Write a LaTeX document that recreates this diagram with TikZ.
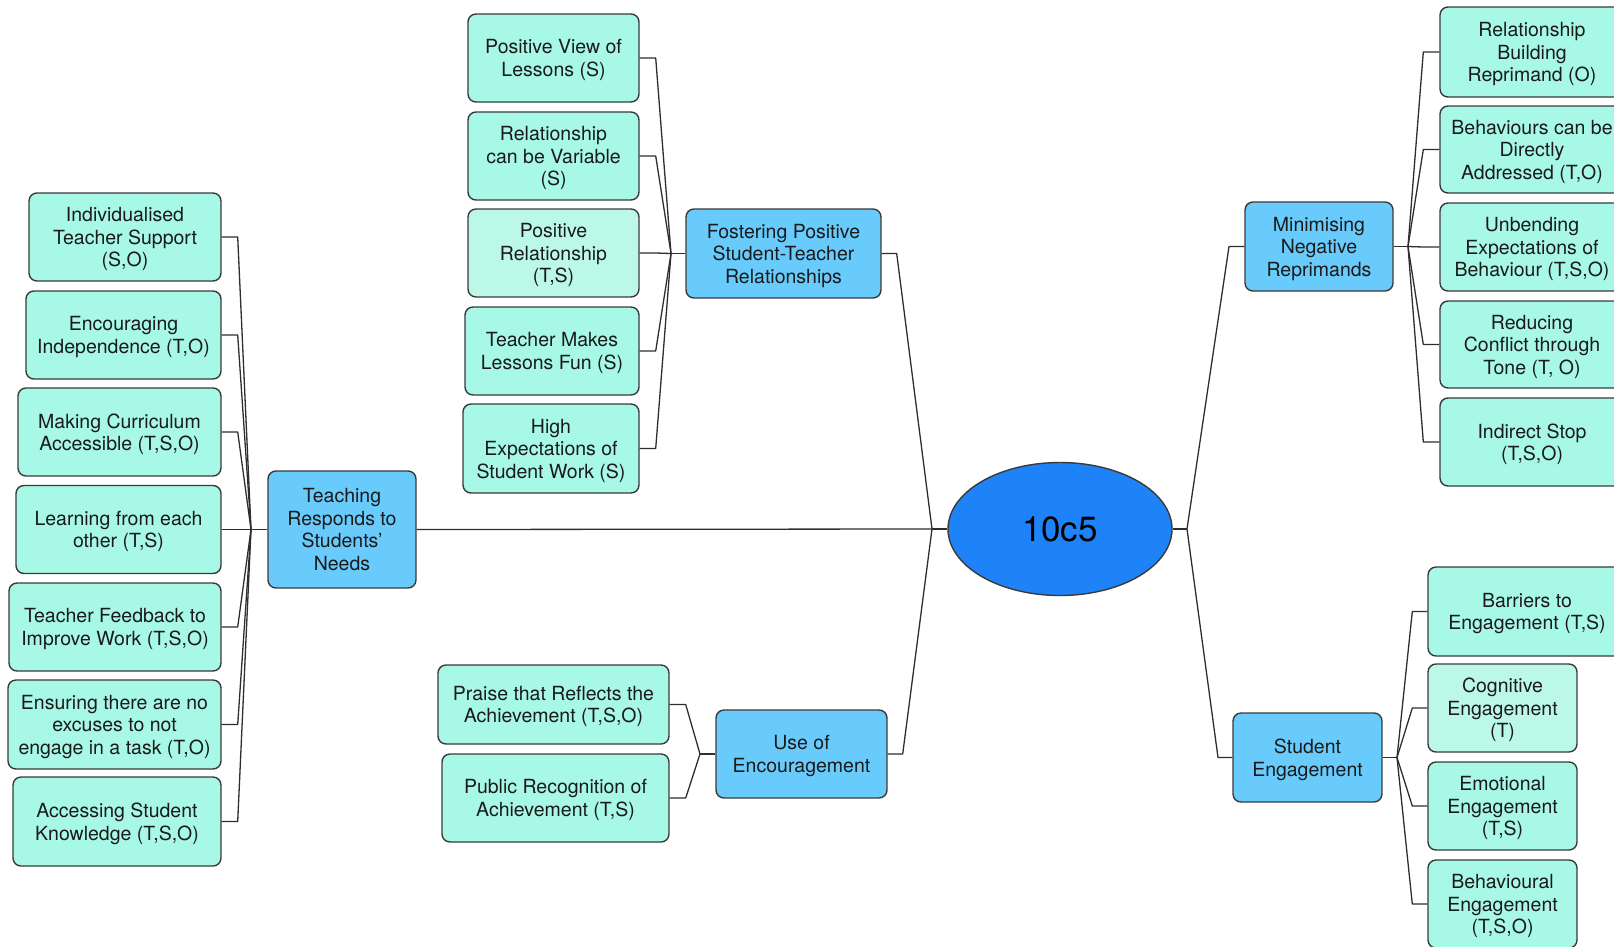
\documentclass[tikz,border=0pt]{standalone}
\usepackage{fontspec}
\setmainfont{TeX Gyre Heros}
\usetikzlibrary{shapes.geometric}
\definecolor{childfill}{HTML}{A7F8E6}
\definecolor{lightfill}{HTML}{BCF8E8}
\definecolor{parentfill}{HTML}{68CBFC}
\definecolor{rootfill}{HTML}{1E82F8}
\definecolor{bordercol}{HTML}{3A3A3A}
\definecolor{linecol}{HTML}{2E2E2E}
\definecolor{textcol}{HTML}{1A1A1A}
\begin{document}
\begin{tikzpicture}[x=1pt,y=-1pt,
  box/.style={draw=bordercol, line width=1.4pt, rounded corners=8pt, align=center,
    inner sep=0pt, minimum height=88pt, text=textcol, text depth=0pt,
    font=\fontsize{19.5}{22.5}\selectfont},
  childbox/.style={box, fill=childfill},
  lightbox/.style={box, fill=lightfill},
  parentbox/.style={box, fill=parentfill},
  rootnode/.style={ellipse, draw=bordercol, line width=1.4pt, fill=rootfill,
    minimum width=224pt, minimum height=133pt, inner sep=0pt, text=black,
    font=\fontsize{35}{40}\selectfont},
  conn/.style={draw=linecol, line width=1.3pt, line join=round}
]
\useasboundingbox (0,0) rectangle (1614,946);

% root
\node[rootnode] (root) at (1060,529) {10c5};

% parents
\node[parentbox, minimum width=148pt, minimum height=117pt] (teach) at (342,529.5) {Teaching\\Responds to\\Students’\\Needs};
\node[parentbox, minimum width=195pt, minimum height=89pt] (foster) at (783.5,253.5) {Fostering Positive\\Student-Teacher\\Relationships};
\node[parentbox, minimum width=171pt] (enc) at (801.5,754) {Use of\\Encouragement};
\node[parentbox, minimum width=148pt, minimum height=89pt] (mini) at (1319,246.5) {Minimising\\Negative\\Reprimands};
\node[parentbox, minimum width=149pt, minimum height=89pt] (stud) at (1307.5,757.5) {Student\\Engagement};

% Teaching children
\node[childbox, minimum width=192pt] (i1) at (125,237) {Individualised\\Teacher Support\\(S,O)};
\node[childbox, minimum width=195pt] (i2) at (123.5,335) {Encouraging\\Independence (T,O)};
\node[childbox, minimum width=203pt] (i3) at (119.5,432) {Making Curriculum\\Accessible (T,S,O)};
\node[childbox, minimum width=205pt] (i4) at (118.5,529.5) {Learning from each\\other (T,S)};
\node[childbox, minimum width=212pt] (i5) at (115,627) {Teacher Feedback to\\Improve Work (T,S,O)};
\node[childbox, minimum width=213pt, minimum height=89pt] (i6) at (114.5,724.5) {Ensuring there are no\\excuses to not\\engage in a task (T,O)};
\node[childbox, minimum width=208pt, minimum height=89pt] (i7) at (117,821.5) {Accessing Student\\Knowledge (T,S,O)};

% Fostering children
\node[childbox, minimum width=171pt] (f1) at (553.5,58) {Positive View of\\Lessons (S)};
\node[childbox, minimum width=171pt] (f2) at (553.5,156) {Relationship\\can be Variable\\(S)};
\node[lightbox, minimum width=171pt] (f3) at (553.5,253) {Positive\\Relationship\\(T,S)};
\node[childbox, minimum width=174pt] (f4) at (552,351) {Teacher Makes\\Lessons Fun (S)};
\node[childbox, minimum width=176pt, minimum height=89pt] (f5) at (551,448.5) {High\\Expectations of\\Student Work (S)};

% Encouragement children
\node[childbox, minimum width=231pt, minimum height=79pt] (e1) at (553.5,704.5) {Praise that Reflects the\\Achievement (T,S,O)};
\node[childbox, minimum width=227pt] (e2) at (555.5,798) {Public Recognition of\\Achievement (T,S)};

% Minimising children
\node[childbox, minimum width=184pt, minimum height=90pt] (m1) at (1532,52) {Relationship\\Building\\Reprimand (O)};
\node[childbox, minimum width=184pt, minimum height=87pt] (m2) at (1532,149.5) {Behaviours can be\\Directly\\Addressed (T,O)};
\node[childbox, minimum width=184pt] (m3) at (1532,247) {Unbending\\Expectations of\\Behaviour (T,S,O)};
\node[childbox, minimum width=184pt, minimum height=87pt] (m4) at (1532,344.5) {Reducing\\Conflict through\\Tone (T, O)};
\node[childbox, minimum width=184pt] (m5) at (1532,442) {Indirect Stop\\(T,S,O)};

% Student engagement children
\node[childbox, minimum width=198pt, minimum height=89pt] (s1) at (1527,611.5) {Barriers to\\Engagement (T,S)};
\node[lightbox, minimum width=149pt] (s2) at (1502.5,708) {Cognitive\\Engagement\\(T)};
\node[childbox, minimum width=149pt] (s3) at (1502.5,806) {Emotional\\Engagement\\(T,S)};
\node[childbox, minimum width=149pt] (s4) at (1502.5,904) {Behavioural\\Engagement\\(T,S,O)};

% junction coordinates
\coordinate (lj) at (932,529);
\coordinate (rj) at (1187,529);
\coordinate (tb) at (251,529.5);
\coordinate (fb) at (671,253.5);
\coordinate (eb) at (700,754);
\coordinate (mb) at (1408,246.5);
\coordinate (sb) at (1397,757.5);

% root connections
\draw[conn] (root.west) -- (lj);
\draw[conn] (root.east) -- (rj);
\draw[conn] (teach.east) -- (lj);
\draw[conn] (foster.east) -- ++(15,0) -- (lj);
\draw[conn] (enc.east) -- ++(15,0) -- (lj);
\draw[conn] (rj) -- (1229,246.5) -- (mini.west);
\draw[conn] (rj) -- (1218,757.5) -- (stud.west);

% Teaching children connections
\draw[conn] (teach.west) -- (tb);
\foreach \c in {i1,i2,i3,i4,i5,i6,i7}
  \draw[conn] (\c.east) -- ++(16,0) -- (tb);

% Fostering children connections
\draw[conn] (foster.west) -- (fb);
\foreach \c in {f1,f2,f3,f4,f5}
  \draw[conn] (\c.east) -- ++(16,0) -- (fb);

% Encouragement children connections
\draw[conn] (enc.west) -- (eb);
\foreach \c in {e1,e2}
  \draw[conn] (\c.east) -- ++(16,0) -- (eb);

% Minimising children connections
\draw[conn] (mini.east) -- (mb);
\foreach \c in {m1,m2,m3,m4,m5}
  \draw[conn] (\c.west) -- ++(-16,0) -- (mb);

% Student engagement children connections
\draw[conn] (stud.east) -- (sb);
\foreach \c in {s1,s2,s3,s4}
  \draw[conn] (\c.west) -- ++(-15,0) -- (sb);
\end{tikzpicture}
\end{document}
